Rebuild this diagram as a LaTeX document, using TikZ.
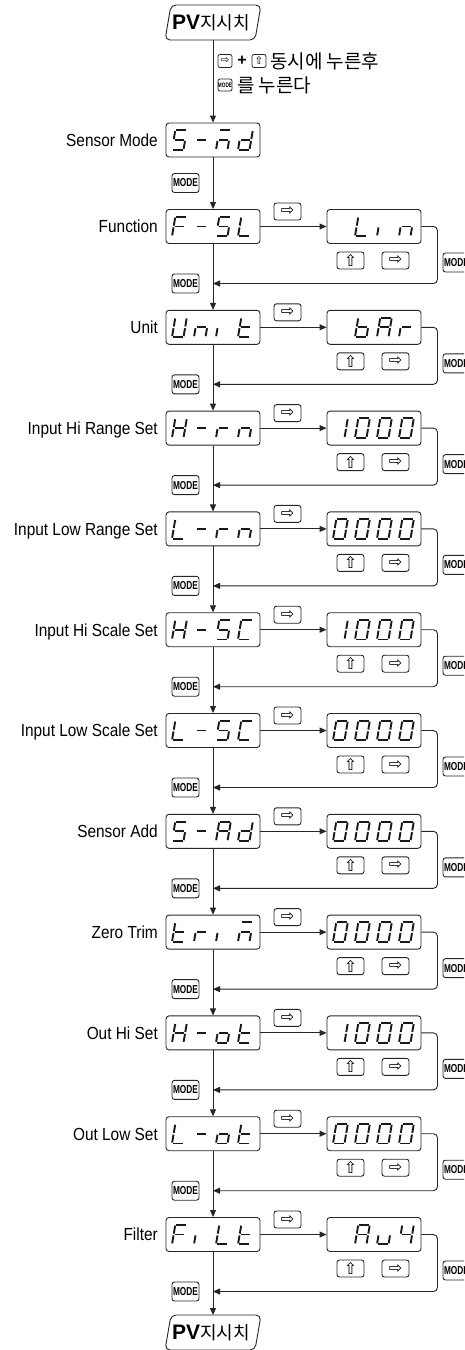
\documentclass[tikz,border=0pt]{standalone}
\usepackage{fontspec}
\setmainfont{Liberation Sans}
\newfontfamily\labfont[FakeStretch=0.88]{Liberation Sans}
\newfontfamily\kofont{Noto Sans CJK KR}
\newfontfamily\symfont{DejaVu Sans}
\newfontfamily\modefont[FakeStretch=0.72]{Liberation Sans}
\usetikzlibrary{arrows.meta}

\tikzset{
 ln/.style={line width=0.9pt, draw=black!85},
 arr/.style={ln, -{Triangle[length=7pt,width=6pt]}},
 disp/.style={draw=black!85, line width=0.9pt, rounded corners=3pt, minimum width=94pt, minimum height=34pt, inner sep=0pt},
 lab/.style={anchor=base east, inner sep=0pt, font=\labfont\fontsize{17.5}{20}\selectfont},
 key/.style={draw=black!85, line width=0.9pt, rounded corners=2.5pt, minimum width=27pt, minimum height=17pt, inner sep=0pt, font=\symfont\fontsize{16}{16}\selectfont},
 modekey/.style={draw=black!85, line width=0.9pt, rounded corners=2.5pt, minimum width=27pt, minimum height=19pt, inner sep=0pt, font=\modefont\bfseries\fontsize{11.5}{11.5}\selectfont},
 smallkey/.style={draw=black!85, line width=0.8pt, rounded corners=2pt, minimum width=14pt, minimum height=13pt, inner sep=0pt, font=\symfont\fontsize{10.5}{10.5}\selectfont},
 smallmode/.style={draw=black!85, line width=0.8pt, rounded corners=2pt, minimum width=14pt, minimum height=12pt, inner sep=0pt, font=\modefont\bfseries\fontsize{6.5}{6.5}\selectfont},
 kotext/.style={anchor=west, inner sep=0pt, font=\kofont\fontsize{19}{21}\selectfont},
 pvtext/.style={inner sep=0pt},
 seg/.style={line width=1.9pt, draw=black!90, shorten >=0.9pt, shorten <=0.9pt},
}

\def\sgBlank{}
\def\sgZero{TL/TR,TR/MR,MR/BR,BL/BR,ML/BL,TL/ML}
\def\sgOne{TR/MR,MR/BR}
\def\sgFour{TL/ML,ML/MR,TR/MR,MR/BR}
\def\sgFive{TL/TR,TL/ML,ML/MR,MR/BR,BL/BR}
\def\sgA{TL/TR,TR/MR,MR/BR,ML/BL,TL/ML,ML/MR}
\def\sgb{TL/ML,ML/BL,BL/BR,MR/BR,ML/MR}
\def\sgC{TL/TR,TL/ML,ML/BL,BL/BR}
\def\sgd{TR/MR,MR/BR,BL/BR,ML/BL,ML/MR}
\def\sgDash{ML/MR}
\def\sgF{TL/TR,TL/ML,ML/BL,ML/MR}
\def\sgH{TL/ML,ML/BL,TR/MR,MR/BR,ML/MR}
\def\sgi{ML/BL}
\def\sgL{TL/ML,ML/BL,BL/BR}
\def\sgn{ML/MR,ML/BL,MR/BR}
\def\sgm{TL/TR,ML/MR,ML/BL,MR/BR}
\def\sgo{ML/MR,ML/BL,MR/BR,BL/BR}
\def\sgr{ML/MR,ML/BL}
\def\sgt{TL/ML,ML/BL,BL/BR,ML/MR}
\def\sgU{TL/ML,ML/BL,BL/BR,TR/MR,MR/BR}
\def\sgu{ML/BL,BL/BR,MR/BR}

\newcommand\dchar[3]{%
 \ifx#3\sgBlank\else
 \begin{scope}[shift={(#1,#2)},xslant=0.17]
  \coordinate (TL) at (0,-19.5); \coordinate (TR) at (11.5,-19.5);
  \coordinate (ML) at (0,-9.75); \coordinate (MR) at (11.5,-9.75);
  \coordinate (BL) at (0,0); \coordinate (BR) at (11.5,0);
  \foreach \p/\q in #3 {\draw[seg] (\p) -- (\q);}
 \end{scope}\fi}
\newcommand\fourch[6]{%
 \dchar{#1}{#2}{#3}\dchar{#1+22}{#2}{#4}\dchar{#1+44}{#2}{#5}\dchar{#1+66}{#2}{#6}}
\newcommand\mainrow[7]{%
 \node[disp] (m#1) at (213,#2) {};
 \node[lab] (l#1) at (158,#2+6.3) {#3};
 \fourch{172}{#2+9.75}{#4}{#5}{#6}{#7}}
\newcommand\siderow[6]{%
 \node[disp] (r#1) at (374,#2) {};
 \fourch{333}{#2+9.75}{#3}{#4}{#5}{#6}
 \node[key] (ka#1) at (287.5,#2-15) {⇨};
 \node[key] (ku#1) at (350.5,#2+34) {⇧};
 \node[key] (kr#1) at (395.5,#2+34) {⇨};
 \node[modekey] (mr#1) at (456.5,#2+36) {MODE};
 \node[modekey] (ml#1) at (185.5,#2+57) {MODE};
 \coordinate (j#1) at (213,#2+57);
 \draw[arr] (m#1.east) -- (r#1.west);
 \draw[arr,rounded corners=4pt] (r#1.east) -- ++(16,0) |- (j#1);}

\begin{document}
\begin{tikzpicture}[x=1pt,y=-1pt]
\useasboundingbox (0,0) rectangle (464,1350);
\begin{scope}
\clip (0,0) rectangle (464,1350);

% top PV
\node[pvtext] (pv1) at (211,22.5) {\fontsize{21}{22}\selectfont\bfseries PV\kofont\mdseries\fontsize{18}{20}\selectfont 지시치};
\draw[ln,rounded corners=5pt] (171,5) -- (261,5) -- (255,40) -- (165,40) -- cycle;

% instruction
\node[smallkey] (tk1) at (225,61) {⇨};
\node[inner sep=0pt,font=\bfseries\fontsize{16}{16}\selectfont] (plus) at (242,61) {+};
\node[smallkey] (tk2) at (259,61) {⇧};
\node[kotext] (t1) at (270,61) {동시에 누른후};
\node[smallmode] (tk3) at (225,85) {MODE};
\node[kotext] (t2) at (237,85) {를 누른다};

\mainrow{1}{140}{Sensor Mode}{\sgFive}{\sgDash}{\sgm}{\sgd}
\mainrow{2}{226.5}{Function}{\sgF}{\sgDash}{\sgFive}{\sgL}
\mainrow{3}{327.3}{Unit}{\sgU}{\sgn}{\sgi}{\sgt}
\mainrow{4}{428.1}{Input Hi Range Set}{\sgH}{\sgDash}{\sgr}{\sgn}
\mainrow{5}{528.9}{Input Low Range Set}{\sgL}{\sgDash}{\sgr}{\sgn}
\mainrow{6}{629.7}{Input Hi Scale Set}{\sgH}{\sgDash}{\sgFive}{\sgC}
\mainrow{7}{730.5}{Input Low Scale Set}{\sgL}{\sgDash}{\sgFive}{\sgC}
\mainrow{8}{831.3}{Sensor Add}{\sgFive}{\sgDash}{\sgA}{\sgd}
\mainrow{9}{932.1}{Zero Trim}{\sgt}{\sgr}{\sgi}{\sgm}
\mainrow{10}{1032.9}{Out Hi Set}{\sgH}{\sgDash}{\sgo}{\sgt}
\mainrow{11}{1133.7}{Out Low Set}{\sgL}{\sgDash}{\sgo}{\sgt}
\mainrow{12}{1234.5}{Filter}{\sgF}{\sgi}{\sgL}{\sgt}

\siderow{2}{226.5}{\sgBlank}{\sgL}{\sgi}{\sgn}
\siderow{3}{327.3}{\sgBlank}{\sgb}{\sgA}{\sgr}
\siderow{4}{428.1}{\sgOne}{\sgZero}{\sgZero}{\sgZero}
\siderow{5}{528.9}{\sgZero}{\sgZero}{\sgZero}{\sgZero}
\siderow{6}{629.7}{\sgOne}{\sgZero}{\sgZero}{\sgZero}
\siderow{7}{730.5}{\sgZero}{\sgZero}{\sgZero}{\sgZero}
\siderow{8}{831.3}{\sgZero}{\sgZero}{\sgZero}{\sgZero}
\siderow{9}{932.1}{\sgZero}{\sgZero}{\sgZero}{\sgZero}
\siderow{10}{1032.9}{\sgOne}{\sgZero}{\sgZero}{\sgZero}
\siderow{11}{1133.7}{\sgZero}{\sgZero}{\sgZero}{\sgZero}
\siderow{12}{1234.5}{\sgBlank}{\sgA}{\sgu}{\sgFour}

\node[modekey] (ml1) at (185.5,183) {MODE};

% bottom PV
\node[pvtext] (pv2) at (211,1332.5) {\fontsize{21}{22}\selectfont\bfseries PV\kofont\mdseries\fontsize{18}{20}\selectfont 지시치};
\draw[ln,rounded corners=5pt] (171,1315) -- (261,1315) -- (255,1350) -- (165,1350) -- cycle;
\coordinate (pv2top) at (213,1315);
\coordinate (pv1bot) at (213,40);

% main column arrows
\draw[arr] (pv1bot) -- (m1.north);
\draw[arr] (m1.south) -- (m2.north);
\draw[arr] (m2.south) -- (m3.north);
\draw[arr] (m3.south) -- (m4.north);
\draw[arr] (m4.south) -- (m5.north);
\draw[arr] (m5.south) -- (m6.north);
\draw[arr] (m6.south) -- (m7.north);
\draw[arr] (m7.south) -- (m8.north);
\draw[arr] (m8.south) -- (m9.north);
\draw[arr] (m9.south) -- (m10.north);
\draw[arr] (m10.south) -- (m11.north);
\draw[arr] (m11.south) -- (m12.north);
\draw[arr] (m12.south) -- (pv2top);
\end{scope}
\end{tikzpicture}
\end{document}
